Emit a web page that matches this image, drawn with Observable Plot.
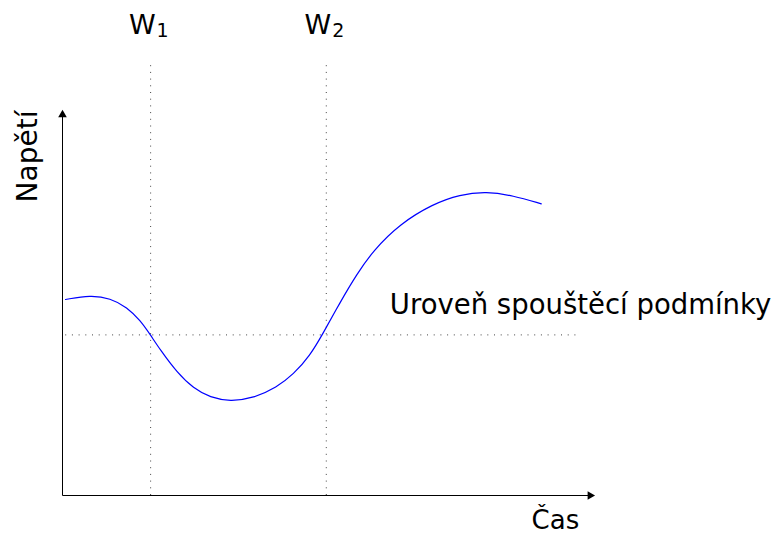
<!DOCTYPE html>
<html>
<head>
<meta charset="utf-8">
<script src="https://cdn.jsdelivr.net/npm/d3@7"></script>
<script src="https://cdn.jsdelivr.net/npm/@observablehq/plot@0.6"></script>
<style>
  html, body { margin: 0; padding: 0; background: #fff; }
  svg { font-family: "DejaVu Sans", sans-serif; }
</style>
</head>
<body>
<div id="chart"></div>
<script>
// Signal (time, voltage), arbitrary units 0..100
const time    = [0.56, 5.23, 8.97, 12.09, 14.58, 16.45, 18.32, 21.44, 24.54, 27.66, 31.40, 35.76, 40.13, 43.23, 46.36, 48.73, 51.96, 55.08, 58.19, 63.18, 69.40, 74.39, 79.38, 84.36, 89.66];
const voltage = [50.65, 51.76, 50.98, 48.66, 45.22, 41.52, 37.60, 31.78, 27.65, 25.32, 24.29, 25.14, 27.98, 31.27, 36.18, 41.73, 49.87, 57.11, 63.31, 70.21, 75.37, 77.78, 78.55, 77.52, 75.37];

const triggerLevel = 41.5;
const triggerSpan = [0.6, 96.8];
const windowTimes = [16.5, 49.4];
const windowLetters = ["W", "W"];
const windowIndices = ["1", "2"];
const windowTop = 112;

const axisMax = [100, 100];
const xLabel = "Čas";
const yLabel = "Napětí";
const triggerLabel = "Uroveň spouštěcí podmínky";

const signal = time.map((t, i) => ({t, v: voltage[i]}));
const windows = windowTimes.map((t, i) => ({t, letter: windowLetters[i], index: windowIndices[i]}));

const chart = Plot.plot({
  width: 772,
  height: 535,
  marginLeft: 62,
  marginRight: 176,
  marginTop: 108,
  marginBottom: 40,
  x: {domain: [0, axisMax[0]], axis: null},
  y: {domain: [0, axisMax[1]], axis: null},
  style: {fontFamily: "DejaVu Sans, sans-serif", background: "white", overflow: "visible"},
  marks: [
    // window markers
    Plot.ruleX(windows, {x: "t", y1: 0, y2: windowTop, stroke: "#444", strokeWidth: 1, strokeDasharray: "1,5.7"}),
    // trigger level
    Plot.ruleY([triggerLevel], {x1: triggerSpan[0], x2: triggerSpan[1], stroke: "#444", strokeWidth: 1, strokeDasharray: "1,5.7"}),
    // axes
    Plot.link([0], {x1: 0, y1: 0, x2: axisMax[0] - 1, y2: 0, stroke: "black", strokeWidth: 1}),
    Plot.link([0], {x1: 0, y1: 0, x2: 0, y2: axisMax[1] - 1.5, stroke: "black", strokeWidth: 1}),
    Plot.dot([0], {x: axisMax[0] - 1.2, y: 0, symbol: "triangle", r: 3.2, fill: "black", stroke: null, rotate: 90}),
    Plot.dot([0], {x: 0, y: axisMax[1] - 1.6, symbol: "triangle", r: 3.2, fill: "black", stroke: null}),
    // signal
    Plot.line(signal, {x: "t", y: "v", curve: "basis", stroke: "#0000ff", strokeWidth: 1.2}),
    // labels
    Plot.text(windows, {x: "t", y: windowTop, text: "letter", textAnchor: "end", dy: -28, dx: 5, lineAnchor: "bottom", fontSize: 27, fill: "black"}),
    Plot.text(windows, {x: "t", y: windowTop, text: "index", textAnchor: "start", dy: -25, dx: 6, lineAnchor: "bottom", fontSize: 19, fill: "black"}),
    Plot.text([triggerLabel], {x: 61.3, y: triggerLevel, text: d => d, textAnchor: "start", lineAnchor: "bottom", dy: -21, fontSize: 27.5, fill: "black"}),
    Plot.text([xLabel], {x: 92.3, y: 0, text: d => d, lineAnchor: "bottom", dy: 33, fontSize: 26, fill: "black"}),
    Plot.text([yLabel], {x: 0, y: 87.6, text: d => d, rotate: -90, lineAnchor: "middle", dx: -34, fontSize: 28, fill: "black"})
  ]
});
document.getElementById("chart").appendChild(chart);
</script>
</body>
</html>
